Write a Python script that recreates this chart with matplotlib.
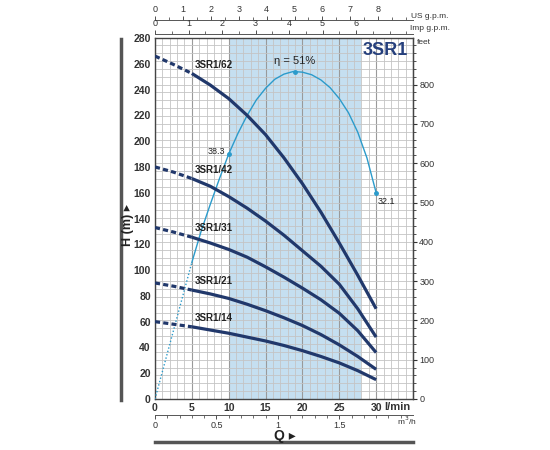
import numpy as np
import matplotlib
matplotlib.use('Agg')
import matplotlib.pyplot as plt
from matplotlib.lines import Line2D
from matplotlib.ticker import MultipleLocator, FixedLocator

plt.rcParams['font.family'] = ['Liberation Sans Narrow', 'Liberation Sans', 'DejaVu Sans']

q = [0, 2.5, 5, 7.5, 10, 12.5, 15, 17.5, 20, 22.5, 25, 27.5, 30]
h_62 = [266, 259.5, 252.5, 243.5, 233, 220, 205, 187, 167, 145, 121, 96, 70]
h_42 = [180, 176, 171, 165, 157, 148, 138, 127, 115, 103, 89, 70, 48]
h_31 = [133, 129.5, 125.5, 121, 116, 110, 102.5, 94.5, 86, 77, 66.5, 53, 36]
h_21 = [90, 87.5, 84.5, 81.5, 78, 73.5, 68.5, 63, 57, 50, 42, 33, 23]
h_14 = [60, 58, 56, 53.5, 51, 48, 45, 41.5, 37.5, 33, 28, 22, 15]
models = ['3SR1/62', '3SR1/42', '3SR1/31', '3SR1/21', '3SR1/14']
heads = [h_62, h_42, h_31, h_21, h_14]

# efficiency curve drawn on the head scale
q_eff = [0, 5, 6.25, 7.5, 8.75, 10, 11.25, 12.5, 13.75, 15, 16.25, 17.5, 18.75,
         20, 21.25, 22.5, 23.75, 25, 26.25, 27.5, 28.75, 30]
h_eff = [0, 106, 130, 151, 171, 190, 206, 220, 232, 241, 248, 252, 254,
         253.5, 251.5, 247.5, 241.5, 233, 222, 207, 187, 160]
q_mark = [10, 19, 30]
h_mark = [190, 254, 160]
mark_txt = ['38.3', 'η = 51%', '32.1']

band = (10, 28)
M2FT = 3.28084
NAVY = '#21386b'
EFF = '#2b9bcb'
W, H = 550.0, 450.0

fig = plt.figure(figsize=(5.5, 4.5), dpi=100)
ax = fig.add_axes([155 / W, 51 / H, 258 / W, 361 / H])
ax.set_xlim(0, 35)
ax.set_ylim(0, 280)

ax.axvspan(band[0], band[1], color='#c5dff0', zorder=0, lw=0)

ax.xaxis.set_major_locator(MultipleLocator(5))
ax.xaxis.set_minor_locator(MultipleLocator(1))
ax.yaxis.set_major_locator(MultipleLocator(20))
ax.yaxis.set_minor_locator(FixedLocator(np.arange(0, 920, 20) / M2FT))
ax.grid(which='major', axis='x', color='#9a9a9a', lw=0.8, zorder=1)
ax.grid(which='minor', axis='x', color='#c4c4c4', lw=0.6, zorder=1)
ax.grid(which='minor', axis='y', color='#c4c4c4', lw=0.6, zorder=1)
ax.set_axisbelow(True)

ax.set_xticks(range(0, 36, 5))
ax.set_xticklabels(['0', '5', '10', '15', '20', '25', '30', ''])
ax.tick_params(axis='both', which='both', length=0, labelsize=7.5, colors='#333333', pad=3)
for lab in ax.get_xticklabels() + ax.get_yticklabels():
    lab.set_fontweight('bold')
for s in ax.spines.values():
    s.set_color('#444444')
    s.set_linewidth(1.0)

for name, hh in zip(models, heads):
    ax.plot(q[:3], hh[:3], color=NAVY, lw=2.3, ls=(0, (1.6, 1.0)), zorder=4)
    ax.plot(q[2:], hh[2:], color=NAVY, lw=2.3, solid_capstyle='butt', zorder=4)
    ax.text(5.4, hh[2] + 3, name, fontsize=7, fontweight='bold', color='#222222',
            ha='left', va='bottom', zorder=5)

ax.plot(q_eff[:2], h_eff[:2], color=EFF, lw=1.0, ls=(0, (1, 1.5)), zorder=3)
ax.plot(q_eff[1:], h_eff[1:], color=EFF, lw=1.0, zorder=3)
ax.plot(q_mark, h_mark, 'o', color=EFF, ms=2.5, zorder=3)
ax.text(q_mark[0] - 0.5, h_mark[0] + 2, mark_txt[0], fontsize=6.5, ha='right', va='center', color='#222222')
ax.text(q_mark[1], h_mark[1] + 4, mark_txt[1], fontsize=8, ha='center', va='bottom', color='#222222')
ax.text(q_mark[2] + 0.2, h_mark[2] - 3, mark_txt[2], fontsize=6.5, ha='left', va='top', color='#222222')

ax.text(31.2, 270, '3SR1', fontsize=13, fontweight='bold', color='#253f7c', ha='center', va='center')

# feet scale on the right
ax_ft = ax.twinx()
ax_ft.set_ylim(0, 280 * M2FT)
ax_ft.yaxis.set_major_locator(FixedLocator(range(0, 900, 100)))
ax_ft.yaxis.set_minor_locator(MultipleLocator(20))
ax_ft.tick_params(which='major', length=3, labelsize=6.5, colors='#333333', pad=1.5)
ax_ft.tick_params(which='minor', length=2, color='#333333')
for s in ax_ft.spines.values():
    s.set_visible(False)
ax_ft.spines['right'].set_visible(True)
ax_ft.spines['right'].set_color('#444444')

# extra flow scales
def flow_axis(y, factor, top, major, minor, labels):
    a = fig.add_axes([155 / W, y, 258 / W, 0.0001])
    a.set_xlim(0, 35 / factor)
    a.patch.set_visible(False)
    for k, s in a.spines.items():
        s.set_visible(False)
    a.set_yticks([])
    side = 'top' if top else 'bottom'
    a.spines[side].set_visible(True)
    a.spines[side].set_color('#555555')
    a.spines[side].set_linewidth(0.7)
    if top:
        a.xaxis.tick_top()
    a.set_xticks(major)
    a.set_xticklabels(labels)
    a.xaxis.set_minor_locator(MultipleLocator(minor))
    a.tick_params(which='major', length=3, labelsize=6.5, colors='#333333', pad=1, width=0.6)
    a.tick_params(which='minor', length=2, color='#555555', width=0.6)
    return a

flow_axis(1 - 20 / H, 3.785, True, range(0, 9), 0.5, [str(i) for i in range(0, 9)])
flow_axis(1 - 34 / H, 4.546, True, range(0, 7), 0.5, [str(i) for i in range(0, 7)])
flow_axis(1 - 415 / H, 16.667, False, [0, 0.5, 1, 1.5], 0.1, ['0', '0.5', '1', '1.5'])

fig.text(430 / W, 1 - 16 / H, 'US g.p.m.', fontsize=6, ha='center', va='center', color='#333333')
fig.text(430 / W, 1 - 29 / H, 'Imp g.p.m.', fontsize=6, ha='center', va='center', color='#333333')
fig.text(417 / W, 1 - 43 / H, 'feet', fontsize=6, ha='left', va='center', color='#333333')
fig.text(397 / W, 1 - 407 / H, 'l/min', fontsize=8, fontweight='bold', ha='center', va='center', color='#333333')
fig.text(407 / W, 1 - 421 / H, 'm$^3$/h', fontsize=6, ha='center', va='center', color='#333333')
fig.text(285 / W, 1 - 436 / H, 'Q ▸', fontsize=10, fontweight='bold', ha='center', va='center', color='#222222')
fig.text(128 / W, 1 - 225 / H, 'H (m) ▸', fontsize=9, fontweight='bold', rotation=90,
         ha='center', va='center', color='#222222')

fig.add_artist(Line2D([155 / W, 413 / W], [1 - 442 / H] * 2, lw=2.5, color='#555555'))
fig.add_artist(Line2D([121 / W] * 2, [1 - 39 / H, 1 - 400 / H], lw=2.5, color='#555555'))

fig.savefig('out.png', dpi=100)
